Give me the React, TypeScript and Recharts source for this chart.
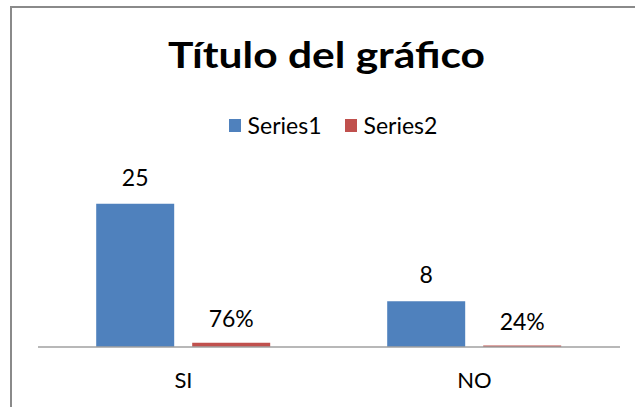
import React from 'react';
import { BarChart, Bar, XAxis, YAxis, Legend, LabelList } from 'recharts';

const categories = ['SI', 'NO'];
const series1 = [25, 8];
const series2 = [0.76, 0.24];
const seriesNames = ['Series1', 'Series2'];
const chartTitle = 'Título del gráfico';

const data = categories.map((c, i) => ({ name: c, s1: series1[i], s2: series2[i] }));

const FONT = 'Lato, "Noto Sans", sans-serif';

const renderLegend = (props: any) => {
  const payload = props.payload || [];
  return (
    <div
      style={{
        display: 'flex',
        justifyContent: 'center',
        alignItems: 'center',
        fontFamily: FONT,
        fontSize: 23,
        color: '#000',
        height: 30,
      }}
    >
      {payload.map((p: any, i: number) => (
        <div key={i} style={{ display: 'flex', alignItems: 'center', marginLeft: i ? 23 : 0 }}>
          <span style={{ width: 12, height: 13, background: p.color, display: 'inline-block', marginRight: 7 }} />
          <span>{p.value}</span>
        </div>
      ))}
    </div>
  );
};

const pct = (v: any) => `${Math.round(Number(v) * 100)}%`;

export default function App() {
  return (
    <div
      style={{
        position: 'absolute',
        left: 0,
        top: 0,
        width: 635,
        height: 407,
        overflow: 'hidden',
        background: '#fff',
      }}
    >
      <div
        style={{
          position: 'absolute',
          left: 10,
          top: 6,
          width: 700,
          height: 500,
          borderLeft: '2px solid #8a8a8a',
          borderTop: '2px solid #8a8a8a',
        }}
      />
      <svg width={635} height={407} style={{ position: 'absolute', left: 0, top: 0 }}>
        <text
          x={326.5}
          y={68}
          textAnchor="middle"
          fontFamily={FONT}
          fontWeight={700}
          fontSize={36}
          fill="#000"
          textLength={317}
          lengthAdjust="spacingAndGlyphs"
        >
          {chartTitle}
        </text>
      </svg>
      <div style={{ position: 'absolute', left: 0, top: 0 }}>
        <BarChart
          width={635}
          height={407}
          data={data}
          margin={{ top: 175, right: 15, left: 38, bottom: 30 }}
          barCategoryGap="20%"
          barGap={18}
        >
          <XAxis
            dataKey="name"
            height={30}
            tickLine={false}
            axisLine={{ stroke: '#a0a0a0', strokeWidth: 1.5 }}
            tick={{ fill: '#000', fontSize: 22, fontFamily: FONT }}
            tickMargin={19}
            interval={0}
          />
          <YAxis hide domain={[0, 30]} />
          <Legend
            layout="horizontal"
            verticalAlign="middle"
            align="center"
            content={renderLegend}
            wrapperStyle={{ top: 110, left: 30, width: 606 }}
          />
          <Bar dataKey="s1" name={seriesNames[0]} fill="#4F81BD" isAnimationActive={false}>
            <LabelList dataKey="s1" position="top" offset={18} fill="#000" fontSize={23} fontFamily={FONT} />
          </Bar>
          <Bar dataKey="s2" name={seriesNames[1]} fill="#C0504D" isAnimationActive={false}>
            <LabelList
              dataKey="s2"
              position="top"
              offset={16}
              fill="#000"
              fontSize={23}
              fontFamily={FONT}
              formatter={pct}
            />
          </Bar>
        </BarChart>
      </div>
    </div>
  );
}
